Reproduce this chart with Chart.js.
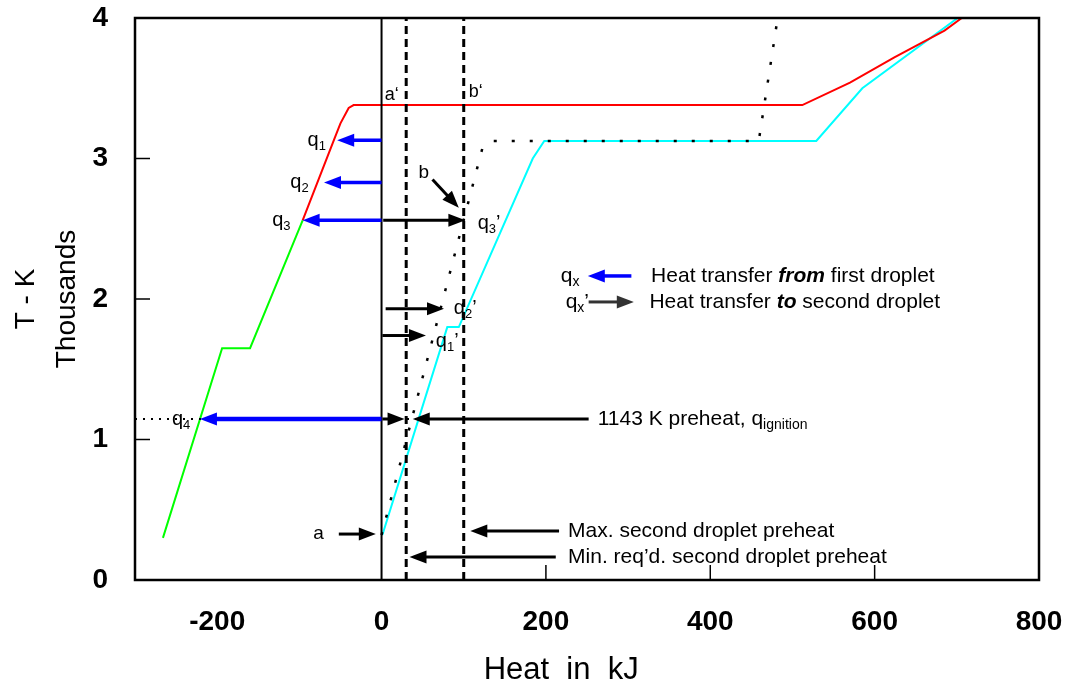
<!doctype html>
<html lang="en">
  <head>
    <meta charset="UTF-8" />
    <title>Droplet preheat - T vs heat</title>
    <script src="https://cdn.jsdelivr.net/npm/chart.js"></script>
    <style>
      html, body { margin: 0; padding: 0; background: #fff; }
    </style>
  </head>
  <body>
    <canvas id="heatChart" width="1070" height="688"></canvas>

    <script>
      // heat in kJ, temperature in thousands of K
      const greenHeat = [-266, -194, -160, -96];
      const greenTemp = [0.3, 1.65, 1.65, 2.56];

      const redHeat = [-96, -58, -50, -40, -34, 512, 570, 624, 685, 706];
      const redTemp = [2.56, 3.13, 3.25, 3.36, 3.38, 3.38, 3.54, 3.72, 3.91, 4.0];

      const cyanHeat = [1, 80, 94, 184, 198, 529, 585, 701];
      const cyanTemp = [0.32, 1.8, 1.8, 3.0, 3.125, 3.125, 3.5, 4.0];

      const dotHeat = [0, 123, 133, 459, 482];
      const dotTemp = [0.32, 3.08, 3.125, 3.125, 4.0];

      const ignitionTemp = 1.146; // 1143 K
      const ignitionHeat = [-300, 100];

      const minPreheat = 30;
      const maxPreheat = 100;

      const xTickValues = [-200, 0, 200, 400, 600, 800];
      const xInnerTicks = [200, 400, 600];
      const yInnerTicks = [1, 2, 3];

      // arrows: [x1, y1, x2, y2] in kJ / thousand K
      const blueArrows = [
        [0, 3.13, -54, 3.13],
        [0, 2.83, -70, 2.83],
        [0, 2.56, -96, 2.56],
        [304, 2.164, 251, 2.164],
      ];
      const q4Arrow = [0, 1.146, -221, 1.146];
      const blackArrows = [
        [2, 2.56, 102, 2.56],
        [5, 1.93, 76, 1.93],
        [1, 1.74, 54, 1.74],
        [62, 2.85, 94, 2.65],
        [1, 1.146, 28, 1.146],
        [252, 1.146, 38, 1.146],
        [216, 0.349, 108, 0.349],
        [212, 0.164, 34, 0.164],
        [-52, 0.327, -7, 0.327],
      ];
      const greyArrows = [[252, 1.979, 307, 1.979]];

      // labels: left edge x, middle y, parts [text, kind]
      const labels = [
        { x: 4, y: 3.45, size: 18, parts: [["a‘"]] },
        { x: 106, y: 3.47, size: 18, parts: [["b‘"]] },
        { x: 45, y: 2.9, size: 19, parts: [["b"]] },
        { x: -83, y: 0.33, size: 19, parts: [["a"]] },
        { x: -90, y: 3.13, size: 20, parts: [["q"], ["1", "sub"]] },
        { x: -111, y: 2.83, size: 20, parts: [["q"], ["2", "sub"]] },
        { x: -133, y: 2.56, size: 20, parts: [["q"], ["3", "sub"]] },
        { x: -255, y: 1.146, size: 20, parts: [["q"], ["4", "sub"]] },
        { x: 117, y: 2.54, size: 20, parts: [["q"], ["3", "sub"], ["’"]] },
        { x: 88, y: 1.93, size: 20, parts: [["q"], ["2", "sub"], ["’"]] },
        { x: 66, y: 1.7, size: 20, parts: [["q"], ["1", "sub"], ["’"]] },
        { x: 218, y: 2.164, size: 21, parts: [["q"], ["x", "sub"]] },
        { x: 224, y: 1.979, size: 21, parts: [["q"], ["x", "sub"], ["’"]] },
        { x: 328, y: 2.16, size: 21, parts: [["Heat transfer "], ["from", "bi"], [" first droplet"]] },
        { x: 326, y: 1.979, size: 21, parts: [["Heat transfer "], ["to", "bi"], [" second droplet"]] },
        { x: 263, y: 1.146, size: 21, parts: [["1143 K preheat, q"], ["ignition", "sub"]] },
        { x: 227, y: 0.349, size: 21, parts: [["Max. second droplet preheat"]] },
        { x: 227, y: 0.164, size: 21, parts: [["Min. req’d. second droplet preheat"]] },
      ];

      const FONT = '"Liberation Sans", Arial, sans-serif';

      function pts(xs, ys) {
        return xs.map((v, i) => ({ x: v, y: ys[i] }));
      }

      function vline(v) {
        return [{ x: v, y: 0 }, { x: v, y: 4 }];
      }

      function drawArrow(ctx, x1, y1, x2, y2, color, w) {
        const ang = Math.atan2(y2 - y1, x2 - x1);
        const hl = 17, hw = 6.5;
        const c = Math.cos(ang), s = Math.sin(ang);
        const bx = x2 - hl * c, by = y2 - hl * s;
        ctx.strokeStyle = color;
        ctx.fillStyle = color;
        ctx.lineWidth = w;
        ctx.beginPath();
        ctx.moveTo(x1, y1);
        ctx.lineTo(bx + 2 * c, by + 2 * s);
        ctx.stroke();
        ctx.beginPath();
        ctx.moveTo(x2, y2);
        ctx.lineTo(bx - hw * s, by + hw * c);
        ctx.lineTo(bx + hw * s, by - hw * c);
        ctx.closePath();
        ctx.fill();
      }

      function drawParts(ctx, px, py, parts, size) {
        let cx = px;
        ctx.fillStyle = "#000";
        ctx.textAlign = "left";
        ctx.textBaseline = "middle";
        parts.forEach(([t, kind]) => {
          let dy = 0;
          ctx.font = `${size}px ${FONT}`;
          if (kind === "sub") {
            ctx.font = `${Math.round(size * 0.66)}px ${FONT}`;
            dy = size * 0.3;
          } else if (kind === "bi") {
            ctx.font = `italic bold ${size}px ${FONT}`;
          }
          ctx.fillText(t, cx, py + dy);
          cx += ctx.measureText(t).width;
        });
      }

      const overlay = {
        id: "overlay",
        afterDatasetsDraw(chart) {
          const { ctx, chartArea: a } = chart;
          const xs = chart.scales.x, ys = chart.scales.y;
          const X = (v) => xs.getPixelForValue(v);
          const Y = (v) => ys.getPixelForValue(v);
          ctx.save();

          // frame and inward ticks
          ctx.strokeStyle = "#000";
          ctx.lineWidth = 2.5;
          ctx.strokeRect(a.left, a.top, a.right - a.left, a.bottom - a.top);
          ctx.lineWidth = 1.5;
          yInnerTicks.forEach((v) => {
            ctx.beginPath();
            ctx.moveTo(a.left, Y(v));
            ctx.lineTo(a.left + 15, Y(v));
            ctx.stroke();
          });
          xInnerTicks.forEach((v) => {
            ctx.beginPath();
            ctx.moveTo(X(v), a.bottom);
            ctx.lineTo(X(v), a.bottom - 15);
            ctx.stroke();
          });

          blueArrows.forEach((r) => drawArrow(ctx, X(r[0]), Y(r[1]), X(r[2]), Y(r[3]), "#0000ff", 3.5));
          drawArrow(ctx, X(q4Arrow[0]), Y(q4Arrow[1]), X(q4Arrow[2]), Y(q4Arrow[3]), "#0000ff", 4.5);
          blackArrows.forEach((r) => drawArrow(ctx, X(r[0]), Y(r[1]), X(r[2]), Y(r[3]), "#000", 3));
          greyArrows.forEach((r) => drawArrow(ctx, X(r[0]), Y(r[1]), X(r[2]), Y(r[3]), "#333", 3));

          labels.forEach((l) => drawParts(ctx, X(l.x), Y(l.y), l.parts, l.size));
          ctx.restore();
        },
      };

      const line = (data, color, width, dash) => ({
        data,
        borderColor: color,
        backgroundColor: color,
        borderWidth: width,
        borderDash: dash || [],
        pointRadius: 0,
        showLine: true,
        fill: false,
        tension: 0,
      });

      const ctx = document.getElementById("heatChart").getContext("2d");
      new Chart(ctx, {
        type: "scatter",
        data: {
          datasets: [
            line(vline(0), "#000", 2),
            line(vline(minPreheat), "#000", 3, [8, 5]),
            line(vline(maxPreheat), "#000", 3, [8, 5]),
            line(pts(ignitionHeat, ignitionHeat.map(() => ignitionTemp)), "#000", 2, [2, 6]),
            line(pts(dotHeat, dotTemp), "#000", 2.5, [3, 15]),
            line(pts(greenHeat, greenTemp), "#00ff00", 2),
            line(pts(redHeat, redTemp), "#ff0000", 2),
            line(pts(cyanHeat, cyanTemp), "#00ffff", 2),
          ],
        },
        options: {
          responsive: false,
          animation: false,
          layout: { padding: { top: 18, right: 31, left: 0, bottom: 0 } },
          plugins: {
            legend: { display: false },
            tooltip: { enabled: false },
          },
          scales: {
            x: {
              type: "linear",
              min: -300,
              max: 800,
              grid: { display: false },
              border: { display: false },
              afterBuildTicks: (axis) => {
                axis.ticks = xTickValues.map((v) => ({ value: v }));
              },
              afterFit: (axis) => {
                axis.height = 108;
                axis.paddingLeft = 0;
                axis.paddingRight = 0;
              },
              ticks: {
                padding: 17,
                color: "#000",
                font: { family: FONT, size: 28, weight: "bold" },
              },
              title: {
                display: true,
                // trailing spaces pull the title a bit left, as in the original
                text: "Heat  in  kJ      ",
                color: "#000",
                padding: { top: 0, bottom: 0 },
                font: { family: FONT, size: 31, lineHeight: 1.1 },
              },
            },
            y: {
              min: 0,
              max: 4,
              grid: { display: false },
              border: { display: false },
              afterFit: (axis) => {
                axis.width = 135;
                axis.paddingTop = 0;
                axis.paddingBottom = 0;
              },
              ticks: {
                stepSize: 1,
                padding: 19,
                color: "#000",
                font: { family: FONT, size: 28, weight: "bold" },
              },
              title: {
                display: true,
                text: ["T - K", "Thousands"],
                color: "#000",
                padding: { top: 6, bottom: 0 },
                font: { family: FONT, size: 28, lineHeight: 1.45 },
              },
            },
          },
        },
        plugins: [overlay],
      });
    </script>
  </body>
</html>
